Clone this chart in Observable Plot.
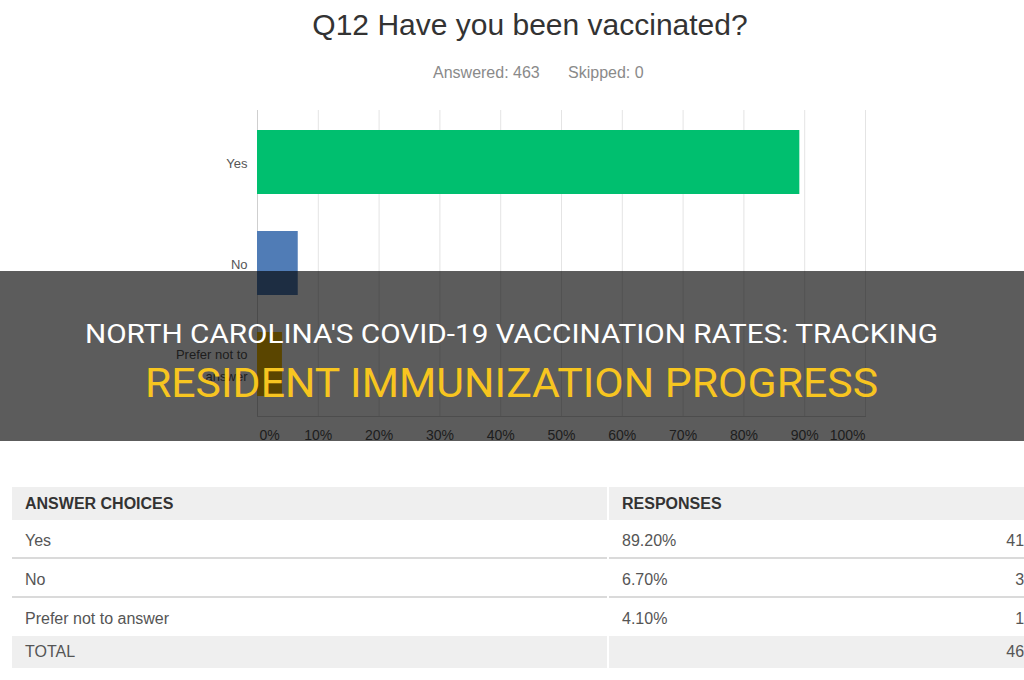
<!DOCTYPE html>
<html>
<head>
<meta charset="utf-8">
<script src="https://cdn.jsdelivr.net/npm/d3@7"></script>
<script src="https://cdn.jsdelivr.net/npm/@observablehq/plot@0.6"></script>
<style>
  html, body { margin: 0; padding: 0; background: #fff; }
  body { width: 1024px; height: 680px; position: relative; overflow: hidden;
         font-family: "Liberation Sans", Arial, sans-serif; }
  .abs { position: absolute; }
  .cell { position: absolute; height: 20px; line-height: 20px; font-size: 16px; color: #555; white-space: nowrap; }
</style>
</head>
<body>
<svg id="head" class="abs" style="left:0;top:0" width="1024" height="100"></svg>
<div id="chart" class="abs" style="left:0;top:0"></div>
<div id="table"></div>
<svg id="banner" class="abs" style="left:0;top:271px;z-index:5" width="1024" height="170"></svg>
<script>
// ---- data ----
const title = "Q12 Have you been vaccinated?";
const answered = 463;
const skipped = 0;
const categories = ["Yes", "No", "Prefer not to answer"];
const yLabels = ["Yes", "No", "Prefer not to\nanswer"];
const percents = [89.2, 6.7, 4.1];
const counts = [413, 31, 19];
const total = 463;
const barColors = ["#00bf6f", "#507cb6", "#f9be00"];
const xTicks = [0, 10, 20, 30, 40, 50, 60, 70, 80, 90, 100];
const tableHeaders = ["ANSWER CHOICES", "RESPONSES"];
const totalLabel = "TOTAL";
const bannerLine1 = "NORTH CAROLINA'S COVID-19 VACCINATION RATES: TRACKING";
const bannerLine2 = "RESIDENT IMMUNIZATION PROGRESS";

// ---- header texts ----
const NS = "http://www.w3.org/2000/svg";
function svgText(parent, attrs, txt) {
  const t = document.createElementNS(NS, "text");
  for (const k in attrs) t.setAttribute(k, attrs[k]);
  t.textContent = txt;
  parent.appendChild(t);
  return t;
}
const head = document.getElementById("head");
svgText(head, {x: 530, y: 35, "text-anchor": "middle", "font-size": 30, fill: "#333",
  "font-family": "Liberation Sans, Arial, sans-serif"}, title);
svgText(head, {x: 433, y: 78, "font-size": 16, fill: "#8a8a8a",
  "font-family": "Liberation Sans, Arial, sans-serif"}, "Answered: " + answered);
svgText(head, {x: 568, y: 78, "font-size": 16, fill: "#8a8a8a",
  "font-family": "Liberation Sans, Arial, sans-serif"}, "Skipped: " + skipped);

// ---- chart ----
const data = categories.map((c, i) => ({answer: c, pct: percents[i]}));
const tickStyle = {frameAnchor: "bottom", dy: 23, fontSize: 14, fill: "#555", text: d => d + "%", x: d => d};
const chart = Plot.plot({
  width: 1024,
  height: 460,
  marginLeft: 257,
  marginRight: 159,
  marginTop: 110,
  marginBottom: 44,
  style: {fontFamily: "'Liberation Sans', Arial, sans-serif", background: "transparent"},
  x: {domain: [0, 100], axis: null},
  y: {domain: categories, paddingInner: 0.37, paddingOuter: 0.19, axis: null},
  color: {domain: categories, range: barColors},
  marks: [
    Plot.gridX(xTicks, {stroke: "#e4e4e4", strokeOpacity: 1}),
    Plot.ruleX([0], {stroke: "#cfcfcf"}),
    Plot.frame({anchor: "bottom", stroke: "#d4d4d4"}),
    Plot.barX(data, {x: "pct", y: "answer", fill: "answer"}),
    Plot.axisY({tickSize: 0, tickPadding: 10, fontSize: 13, fill: "#555", label: null, lineHeight: 1.7, dy: -2,
      tickFormat: d => yLabels[categories.indexOf(d)]}),
    Plot.text(xTicks.slice(1, -1), {...tickStyle}),
    Plot.text(xTicks.slice(0, 1), {...tickStyle, textAnchor: "start", dx: 2}),
    Plot.text(xTicks.slice(-1), {...tickStyle, textAnchor: "end"})
  ]
});
document.getElementById("chart").appendChild(chart);

// ---- table ----
const table = document.getElementById("table");
function box(left, top, w, h, bg) {
  const d = document.createElement("div");
  d.className = "abs";
  Object.assign(d.style, {left: left + "px", top: top + "px", width: w + "px", height: h + "px", background: bg});
  table.appendChild(d);
}
function cell(left, cy, txt, opts = {}) {
  const d = document.createElement("div");
  d.className = "cell";
  d.textContent = txt;
  d.style.top = (cy - 10) + "px";
  if (opts.right != null) { d.style.right = opts.right + "px"; d.style.textAlign = "right"; }
  else d.style.left = left + "px";
  if (opts.bold) { d.style.fontWeight = "bold"; d.style.color = "#333"; }
  table.appendChild(d);
}
// header row
box(12, 487, 595, 33, "#efefef");
box(609, 487, 430, 33, "#efefef");
cell(25, 504, tableHeaders[0], {bold: true});
cell(622, 504, tableHeaders[1], {bold: true});
// answer rows
const rowCenters = [541, 580, 619];
const dividers = [557, 596];
categories.forEach((c, i) => {
  cell(25, rowCenters[i], c);
  cell(622, rowCenters[i], percents[i].toFixed(2) + "%");
  cell(0, rowCenters[i], String(counts[i]), {right: -9});
});
dividers.forEach(y => { box(12, y, 595, 2, "#dadada"); box(609, y, 430, 2, "#dadada"); });
// total row
box(12, 636, 595, 32, "#efefef");
box(609, 636, 430, 32, "#efefef");
cell(25, 652, totalLabel);
cell(0, 652, String(total), {right: -9});

// ---- banner overlay ----
const banner = document.getElementById("banner");
const r = document.createElementNS(NS, "rect");
r.setAttribute("width", 1024); r.setAttribute("height", 170); r.setAttribute("fill", "rgba(0,0,0,0.64)");
banner.appendChild(r);
svgText(banner, {x: 85, y: 72, "font-size": 26, fill: "#ffffff", "font-family": "Roboto, Liberation Sans, sans-serif",
  textLength: 853, lengthAdjust: "spacingAndGlyphs"}, bannerLine1);
svgText(banner, {x: 145, y: 126, "font-size": 40, fill: "#f7c520", "font-family": "Roboto, Liberation Sans, sans-serif",
  textLength: 733, lengthAdjust: "spacingAndGlyphs"}, bannerLine2);
</script>
</body>
</html>
